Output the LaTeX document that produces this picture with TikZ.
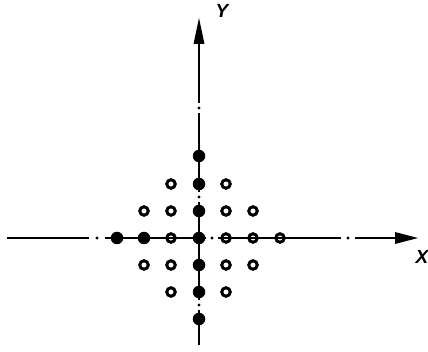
\documentclass[tikz,border=0pt]{standalone}
\usepackage{fontspec}
\newfontfamily\labfont{Liberation Sans}
\begin{document}
\begin{tikzpicture}[x=1pt,y=-1pt,
  axis/.style={line width=2.5pt},
  gapdot/.style={circle,fill,inner sep=0pt,minimum size=3.2pt},
  fullpt/.style={circle,fill,inner sep=0pt,minimum size=12.5pt},
  openpt/.style={circle,draw,line width=3pt,inner sep=0pt,minimum size=8.5pt},
  lab/.style={font=\labfont\bfseries\itshape\fontsize{19}{19}\selectfont,inner sep=0pt}]
\useasboundingbox (0,0) rectangle (428,352);
% axis end points
\coordinate (vb) at (199,345);
\coordinate (v1a) at (199,310);
\coordinate (v1b) at (199,300);
\coordinate (v2a) at (199,202);
\coordinate (v2b) at (199,192);
\coordinate (v3a) at (199,113);
\coordinate (v3b) at (199,103);
\coordinate (vt) at (199,42);
\coordinate (hl) at (7,238);
\coordinate (h1a) at (89,238);
\coordinate (h1b) at (105,238);
\coordinate (h2a) at (206,238);
\coordinate (h2b) at (218,238);
\coordinate (h3a) at (341,238);
\coordinate (h3b) at (355,238);
\coordinate (hr) at (398,238);
% axes
\draw[axis] (vb) -- (v1a);
\draw[axis] (v1b) -- (v2a);
\draw[axis] (v2b) -- (v3a);
\draw[axis] (v3b) -- (vt);
\draw[axis] (hl) -- (h1a);
\draw[axis] (h1b) -- (h2a);
\draw[axis] (h2b) -- (h3a);
\draw[axis] (h3b) -- (hr);
\node[gapdot] (d1) at (199,305) {};
\node[gapdot] (d2) at (199,197) {};
\node[gapdot] (d3) at (199,108) {};
\node[gapdot] (d4) at (97,238) {};
\node[gapdot] (d5) at (212,238) {};
\node[gapdot] (d6) at (348,238) {};
% arrow heads
\fill (199,18) -- (204.5,44) -- (193.5,44) -- cycle;
\fill (418,238) -- (395,232) -- (395,244) -- cycle;
% labels
\node[lab] (ly) at (222,11) {Y};
\node[lab] (lx) at (422,257) {X};
% points on the axes
\node[fullpt] (o) at (199,238) {};
\node[fullpt] (y1) at (199,211) {};
\node[fullpt] (y2) at (199,184) {};
\node[fullpt] (y3) at (199,156) {};
\node[fullpt] (ym1) at (199,265) {};
\node[fullpt] (ym2) at (199,292) {};
\node[fullpt] (ym3) at (199,319) {};
\node[fullpt] (xm3) at (117,238) {};
\node[fullpt] (xm2) at (144,238) {};
\node[openpt] (xm1) at (171,238) {};
\node[openpt] (x1) at (226,238) {};
\node[openpt] (x2) at (253,238) {};
\node[openpt] (x3) at (280,238) {};
% open points off the axes
\foreach \px/\py [count=\k] in {171/184,226/184,
   144/211,171/211,226/211,253/211,
   144/265,171/265,226/265,253/265,
   171/292,226/292}
  \node[openpt] (q\k) at (\px,\py) {};
\end{tikzpicture}
\end{document}
